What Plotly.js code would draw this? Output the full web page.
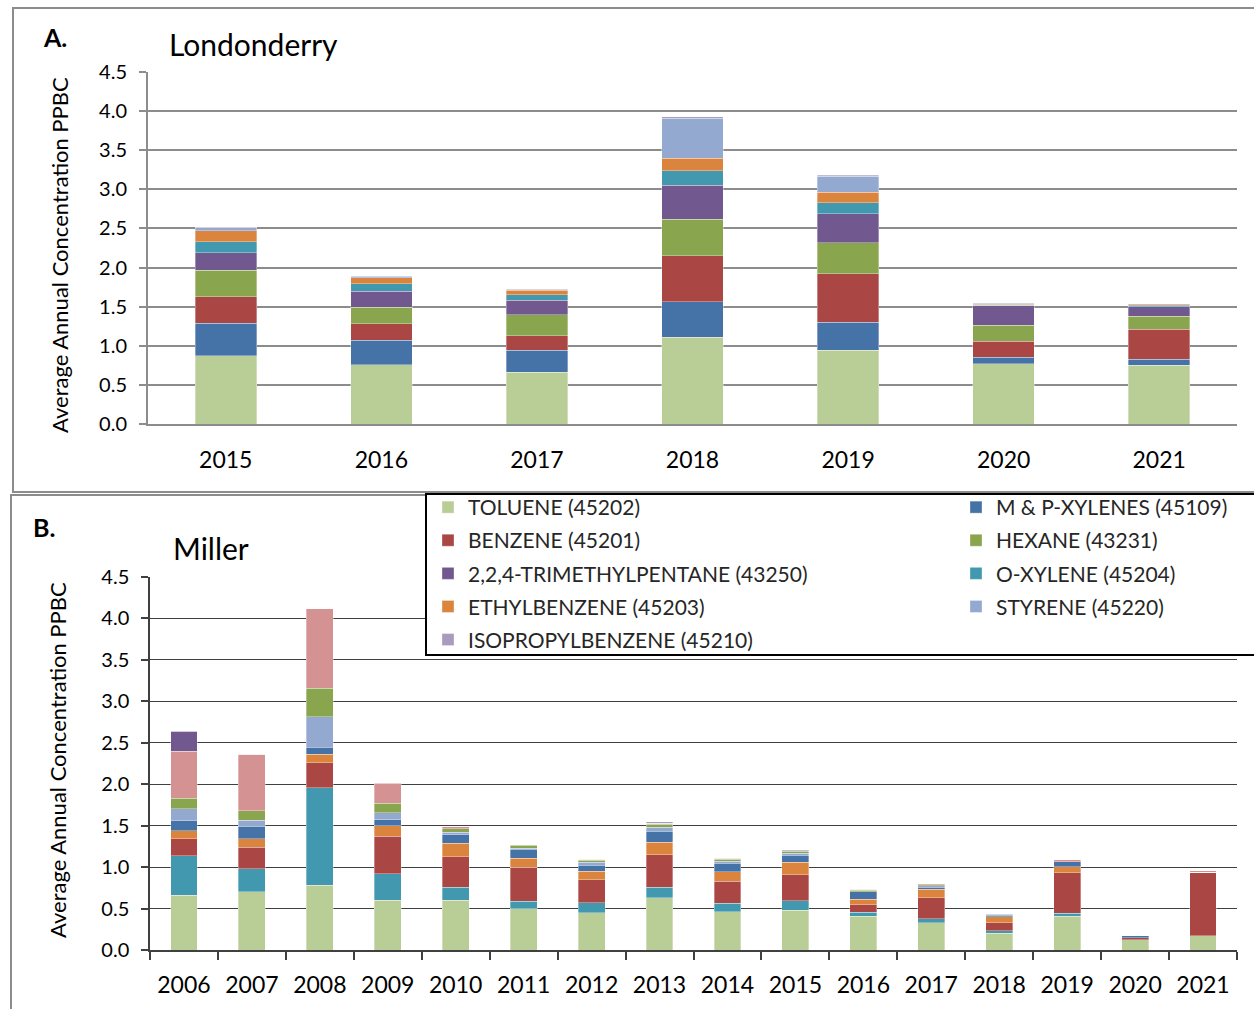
<!DOCTYPE html>
<html>
<head>
<meta charset="utf-8">
<script src="https://cdn.plot.ly/plotly-3.0.1.min.js"></script>
<style>
  body { margin: 0; background: #fff; }
  #chart { width: 1254px; height: 1009px; }
</style>
</head>
<body>
<div id="chart"></div>
<script>
// Londonderry (panel A), 2015-2021
const yearsA = ['2015', '2016', '2017', '2018', '2019', '2020', '2021'];
const tolueneA = [0.87, 0.76, 0.66, 1.11, 0.94, 0.77, 0.75];
const mpXylenesA = [0.415, 0.31, 0.28, 0.45, 0.36, 0.085, 0.08];
const benzeneA = [0.34, 0.21, 0.19, 0.59, 0.62, 0.20, 0.38];
const hexaneA = [0.34, 0.21, 0.265, 0.47, 0.40, 0.205, 0.17];
const trimethylpentaneA = [0.225, 0.21, 0.19, 0.43, 0.37, 0.25, 0.12];
const oXyleneA = [0.14, 0.095, 0.07, 0.19, 0.14, 0.01, 0.01];
const ethylbenzeneA = [0.14, 0.077, 0.055, 0.155, 0.13, 0.01, 0.015];
const styreneA = [0.04, 0.02, 0.015, 0.515, 0.21, 0.01, 0.01];
const isopropylbenzeneA = [0.005, 0.005, 0.005, 0.02, 0.01, 0.005, 0.005];

// Miller (panel B), 2006-2021
const yearsB = ['2006', '2007', '2008', '2009', '2010', '2011', '2012', '2013',
                '2014', '2015', '2016', '2017', '2018', '2019', '2020', '2021'];
const tolueneB = [0.66, 0.70, 0.78, 0.60, 0.60, 0.50, 0.45, 0.63, 0.46, 0.48, 0.41, 0.33, 0.20, 0.41, 0.125, 0.17];
const oXyleneB = [0.48, 0.28, 1.18, 0.32, 0.16, 0.09, 0.12, 0.13, 0.105, 0.115, 0.045, 0.05, 0.03, 0.035, 0, 0];
const benzeneB = [0.20, 0.26, 0.30, 0.45, 0.365, 0.41, 0.28, 0.39, 0.265, 0.315, 0.09, 0.25, 0.10, 0.49, 0.02, 0.77];
const ethylbenzeneB = [0.10, 0.105, 0.10, 0.13, 0.165, 0.105, 0.10, 0.15, 0.115, 0.15, 0.07, 0.10, 0.07, 0.07, 0, 0];
const mpXylenesB = [0.12, 0.15, 0.085, 0.07, 0.10, 0.11, 0.075, 0.13, 0.10, 0.085, 0.085, 0.03, 0.02, 0.06, 0.025, 0];
const styreneB = [0.145, 0.07, 0.37, 0.085, 0.03, 0.015, 0.035, 0.05, 0.025, 0.025, 0.005, 0.015, 0.01, 0, 0, 0];
const hexaneB = [0.125, 0.115, 0.34, 0.115, 0.045, 0.035, 0.025, 0.04, 0.025, 0.02, 0.015, 0.015, 0.005, 0, 0, 0];
const otherB = [0.57, 0.68, 0.965, 0.24, 0.02, 0.005, 0.01, 0.01, 0.01, 0.01, 0.01, 0.01, 0.005, 0.025, 0, 0.015];
const trimethylpentaneB = [0.24, 0, 0, 0.01, 0, 0, 0, 0, 0, 0, 0, 0, 0, 0, 0, 0];
const isopropylbenzeneB = [0, 0, 0, 0, 0, 0, 0, 0.02, 0.005, 0.01, 0, 0, 0, 0, 0, 0];

const FONT = 'Lato, "Open Sans", sans-serif';
const W = 1254, H = 1009;
const px = x => x / W;
const py = y => 1 - y / H;

const C = {
    toluene: '#B9CD96', mp: '#4572A7', benzene: '#AA4643', hexane: '#89A54E',
    tmp: '#71588F', oxy: '#4198AF', ethyl: '#DB843D', styrene: '#93A9CF',
    iso: '#A99BBD', other: '#D49392'
};

function bar(name, x, y, color, axis, legend, show) {
    return {
        type: 'bar', name: name, x: x, y: y,
        xaxis: axis === 2 ? 'x2' : 'x', yaxis: axis === 2 ? 'y2' : 'y',
        marker: { color: color, line: { color: 'rgba(255,255,255,0.55)', width: 0.6 } },
        legend: legend, legendgroup: name, showlegend: show,
        hoverinfo: 'name+y'
    };
}

const traces = [
    // panel A: stacking order matches the legend
    bar('TOLUENE (45202)', yearsA, tolueneA, C.toluene, 1, 'legend', true),
    bar('M &amp; P-XYLENES (45109)', yearsA, mpXylenesA, C.mp, 1, 'legend2', true),
    bar('BENZENE (45201)', yearsA, benzeneA, C.benzene, 1, 'legend', true),
    bar('HEXANE (43231)', yearsA, hexaneA, C.hexane, 1, 'legend2', true),
    bar('2,2,4-TRIMETHYLPENTANE (43250)', yearsA, trimethylpentaneA, C.tmp, 1, 'legend', true),
    bar('O-XYLENE (45204)', yearsA, oXyleneA, C.oxy, 1, 'legend2', true),
    bar('ETHYLBENZENE (45203)', yearsA, ethylbenzeneA, C.ethyl, 1, 'legend', true),
    bar('STYRENE (45220)', yearsA, styreneA, C.styrene, 1, 'legend2', true),
    bar('ISOPROPYLBENZENE (45210)', yearsA, isopropylbenzeneA, C.iso, 1, 'legend', true),
    // panel B
    bar('TOLUENE (45202) B', yearsB, tolueneB, C.toluene, 2, 'legend', false),
    bar('O-XYLENE (45204) B', yearsB, oXyleneB, C.oxy, 2, 'legend', false),
    bar('BENZENE (45201) B', yearsB, benzeneB, C.benzene, 2, 'legend', false),
    bar('ETHYLBENZENE (45203) B', yearsB, ethylbenzeneB, C.ethyl, 2, 'legend', false),
    bar('M &amp; P-XYLENES (45109) B', yearsB, mpXylenesB, C.mp, 2, 'legend', false),
    bar('STYRENE (45220) B', yearsB, styreneB, C.styrene, 2, 'legend', false),
    bar('HEXANE (43231) B', yearsB, hexaneB, C.hexane, 2, 'legend', false),
    bar('OTHER B', yearsB, otherB, C.other, 2, 'legend', false),
    bar('2,2,4-TRIMETHYLPENTANE (43250) B', yearsB, trimethylpentaneB, C.tmp, 2, 'legend', false),
    bar('ISOPROPYLBENZENE (45210) B', yearsB, isopropylbenzeneB, C.iso, 2, 'legend', false)
];

const yTitle = 'Average Annual Concentration PPBC';
const legendFont = { family: FONT, size: 21, color: '#262626' };

const layout = {
    width: W, height: H,
    margin: { l: 0, r: 0, t: 0, b: 0 },
    paper_bgcolor: '#fff', plot_bgcolor: '#fff',
    barmode: 'stack', bargap: 0.605,
    font: { family: FONT, color: '#000' },
    hovermode: 'closest',
    xaxis: {
        domain: [px(148), px(1237)], anchor: 'y', type: 'category',
        showline: true, linecolor: '#8c8c8c', linewidth: 2,
        ticks: '', tickfont: { size: 23 }, ticklabelstandoff: 14,
        showgrid: false, fixedrange: true
    },
    yaxis: {
        domain: [py(424), py(72)], anchor: 'x', range: [0, 4.5], dtick: 0.5, tickformat: '.1f',
        showgrid: true, gridcolor: '#8c8c8c', gridwidth: 2, zeroline: false,
        showline: true, linecolor: '#8c8c8c', linewidth: 2,
        ticks: 'outside', ticklen: 7, tickwidth: 2, tickcolor: '#8c8c8c',
        tickfont: { size: 20 }, ticklabelstandoff: 8, fixedrange: true
    },
    xaxis2: {
        domain: [px(150), px(1237)], anchor: 'y2', type: 'category',
        showline: true, linecolor: '#404040', linewidth: 1.5,
        ticks: 'outside', tickson: 'boundaries', ticklen: 8, tickwidth: 1.5, tickcolor: '#404040',
        tickfont: { size: 23 }, ticklabelstandoff: 14,
        showgrid: false, fixedrange: true
    },
    yaxis2: {
        domain: [py(950), py(577)], anchor: 'x2', range: [0, 4.5], dtick: 0.5, tickformat: '.1f',
        showgrid: true, gridcolor: '#404040', gridwidth: 1.3, zeroline: false,
        showline: true, linecolor: '#404040', linewidth: 1.5,
        ticks: 'outside', ticklen: 7, tickwidth: 1.5, tickcolor: '#404040',
        tickfont: { size: 20 }, ticklabelstandoff: 8, fixedrange: true
    },
    legend: {
        x: px(428), y: py(487), xanchor: 'left', yanchor: 'top',
        orientation: 'v', traceorder: 'grouped', tracegroupgap: 2.8,
        bgcolor: 'rgba(0,0,0,0)', font: legendFont
    },
    legend2: {
        x: px(956), y: py(487), xanchor: 'left', yanchor: 'top',
        orientation: 'v', traceorder: 'grouped', tracegroupgap: 2.8,
        bgcolor: 'rgba(0,0,0,0)', font: legendFont
    },
    shapes: [
        // panel frames
        { type: 'rect', xref: 'paper', yref: 'paper', x0: px(13), x1: px(1262), y0: py(492), y1: py(8),
          line: { color: '#8c8c8c', width: 2 }, layer: 'below' },
        { type: 'rect', xref: 'paper', yref: 'paper', x0: px(11), x1: px(1262), y0: py(1015), y1: py(495),
          line: { color: '#8c8c8c', width: 2 }, layer: 'below' },
        // legend box
        { type: 'rect', xref: 'paper', yref: 'paper', x0: px(426), x1: px(1262), y0: py(655), y1: py(494),
          line: { color: '#000', width: 2 }, fillcolor: '#fff', layer: 'above' }
    ],
    annotations: [
        { text: '<b>A.</b>', xref: 'paper', yref: 'paper', x: px(41), y: py(37),
          xanchor: 'left', yanchor: 'middle', showarrow: false, font: { size: 25 } },
        { text: 'Londonderry', xref: 'paper', yref: 'paper', x: px(167), y: py(44),
          xanchor: 'left', yanchor: 'middle', showarrow: false, font: { size: 30 } },
        { text: yTitle, xref: 'paper', yref: 'paper', x: px(60), y: py(255), textangle: -90,
          xanchor: 'center', yanchor: 'middle', showarrow: false, font: { size: 22 } },
        { text: '<b>B.</b>', xref: 'paper', yref: 'paper', x: px(31), y: py(527),
          xanchor: 'left', yanchor: 'middle', showarrow: false, font: { size: 25 } },
        { text: 'Miller', xref: 'paper', yref: 'paper', x: px(171), y: py(548),
          xanchor: 'left', yanchor: 'middle', showarrow: false, font: { size: 30 } },
        { text: yTitle, xref: 'paper', yref: 'paper', x: px(57), y: py(760), textangle: -90,
          xanchor: 'center', yanchor: 'middle', showarrow: false, font: { size: 22 } }
    ]
};

Plotly.newPlot('chart', traces, layout, { displayModeBar: false, responsive: false });
</script>
</body>
</html>
